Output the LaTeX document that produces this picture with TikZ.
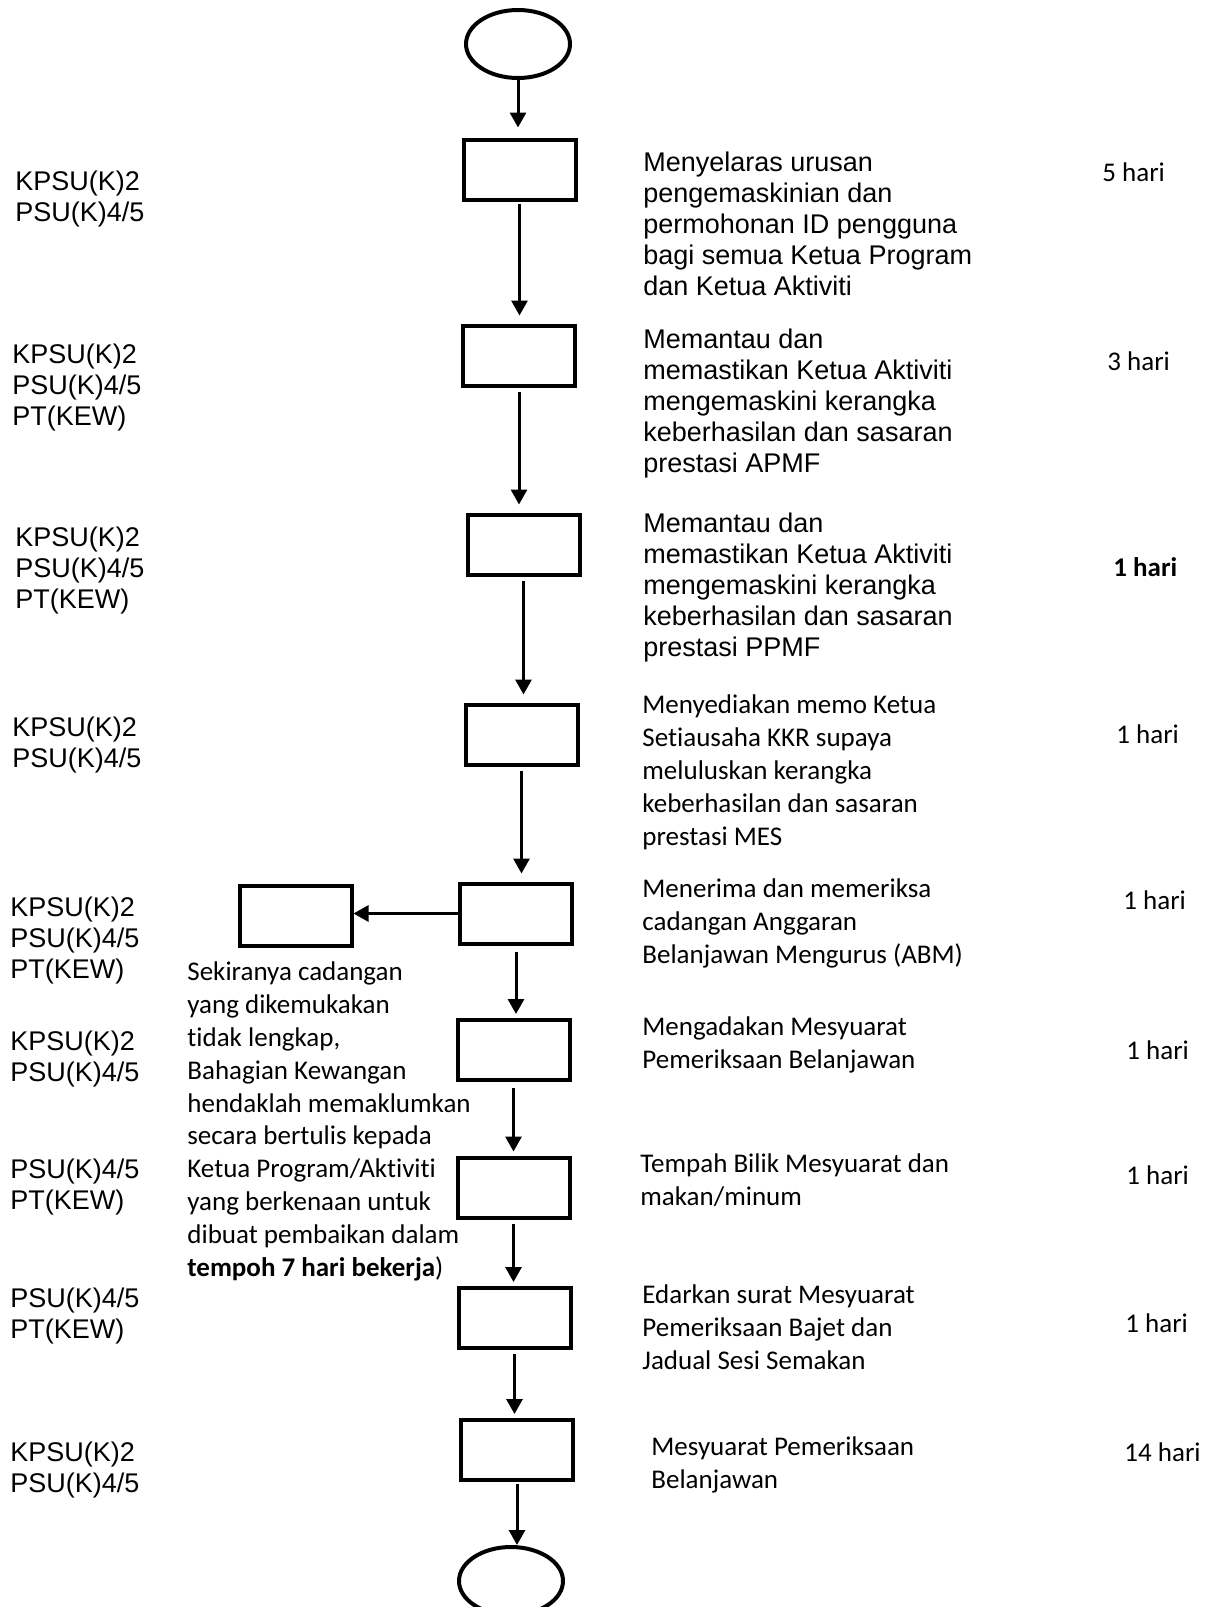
\documentclass[tikz,border=0pt]{standalone}
\usepackage{fontspec}
\setmainfont{Liberation Sans}
\newfontfamily\calfont[Ligatures={NoCommon}]{Carlito}
\usetikzlibrary{arrows.meta,shapes.geometric}
\begin{document}
\begin{tikzpicture}[x=0.5pt,y=-0.5pt,
  box/.style={draw,line width=2pt,minimum width=56pt,minimum height=30pt,inner sep=0pt},
  term/.style={draw,ellipse,line width=2pt,minimum width=52pt,minimum height=34pt,inner sep=0pt},
  arr/.style={line width=1.5pt,-{Triangle[length=7.5pt,width=8pt]}},
  ar/.style={anchor=base west,inner sep=0pt,align=left,font={\fontsize{13.5pt}{15.5pt}\selectfont}},
  ca/.style={anchor=base west,inner sep=0pt,align=left,font={\calfont\fontsize{13.5pt}{16.4pt}\selectfont}},
  hari/.style={anchor=base west,inner sep=0pt,font={\calfont\fontsize{13.5pt}{16.4pt}\selectfont}}]
\useasboundingbox (0,0) rectangle (1210,1607);
\clip (0,0) rectangle (1210,1607);

% flow nodes
\node[term] (start) at (518,44) {};
\node[box] (b1) at (519.5,169.5) {};
\node[box] (b2) at (519,355.5) {};
\node[box] (b3) at (523.5,544.5) {};
\node[box] (b4) at (521.5,734.5) {};
\node[box] (b5) at (516,913.5) {};
\node[box] (bl) at (295.5,915.5) {};
\node[box] (b6) at (513.5,1050) {};
\node[box] (b7) at (513.5,1187.5) {};
\node[box] (b8) at (514.5,1318) {};
\node[box] (b9) at (517,1450) {};
\node[term] (end) at (511,1581) {};

% connectors
\draw[arr,shorten >=5pt] (start.south) -- (start.south |- b1.north);
\draw[arr,shorten <=1pt,shorten >=4pt] (b1.south) -- (b1.south |- b2.north);
\draw[arr,shorten <=2pt,shorten >=4pt] (b2.south) -- (b2.south |- b3.north);
\draw[arr,shorten <=2pt,shorten >=4pt] (b3.south) -- (b3.south |- b4.north);
\draw[arr,shorten <=2pt,shorten >=4pt] (b4.south) -- (b4.south |- b5.north);
\draw[arr] (b5.west) -- (bl.east |- b5.west);
\draw[arr,shorten <=3pt,shorten >=2pt] (b5.south) -- (b5.south |- b6.north);
\draw[arr,shorten <=3pt,shorten >=2pt] (b6.south) -- (b6.south |- b7.north);
\draw[arr,shorten <=2pt,shorten >=2pt] (b7.south) -- (b7.south |- b8.north);
\draw[arr,shorten <=2pt,shorten >=2pt] (b8.south) -- (b8.south |- b9.north);
\draw[arr,shorten <=1pt] (b9.south) -- (b9.south |- end.north);

% left labels (positioned at last-line baseline)
\node[ar] (l1) at (15,221) {KPSU(K)2\\PSU(K)4/5};
\node[ar] (l2) at (12,425) {KPSU(K)2\\PSU(K)4/5\\PT(KEW)};
\node[ar] (l3) at (15,608) {KPSU(K)2\\PSU(K)4/5\\PT(KEW)};
\node[ar] (l4) at (12,767) {KPSU(K)2\\PSU(K)4/5};
\node[ar] (l5) at (10,978) {KPSU(K)2\\PSU(K)4/5\\PT(KEW)};
\node[ar] (l6) at (10,1081) {KPSU(K)2\\PSU(K)4/5};
\node[ar] (l7) at (10,1209) {PSU(K)4/5\\PT(KEW)};
\node[ar] (l8) at (10,1338) {PSU(K)4/5\\PT(KEW)};
\node[ar] (l9) at (10,1492) {KPSU(K)2\\PSU(K)4/5};

% note
\node[ca] (note) at (187,1276) {Sekiranya cadangan\\yang dikemukakan\\tidak lengkap,\\Bahagian Kewangan\\hendaklah memaklumkan\\secara bertulis kepada\\Ketua Program/Aktiviti\\yang berkenaan untuk\\dibuat pembaikan dalam\\\textbf{tempoh 7 hari bekerja})};

% right descriptions
\node[ar] (d1) at (643,295) {Menyelaras urusan\\pengemaskinian dan\\permohonan ID pengguna\\bagi semua Ketua Program\\dan Ketua Aktiviti};
\node[ar] (d2) at (643,472) {Memantau dan\\memastikan Ketua Aktiviti\\mengemaskini kerangka\\keberhasilan dan sasaran\\prestasi APMF};
\node[ar] (d3) at (643,656) {Memantau dan\\memastikan Ketua Aktiviti\\mengemaskini kerangka\\keberhasilan dan sasaran\\prestasi PPMF};
\node[ca] (d4) at (642,845) {Menyediakan memo Ketua\\Setiausaha KKR supaya\\meluluskan kerangka\\keberhasilan dan sasaran\\prestasi MES};
\node[ca] (d5) at (642,963) {Menerima dan memeriksa\\cadangan Anggaran\\Belanjawan Mengurus (ABM)};
\node[ca] (d6) at (642,1068) {Mengadakan Mesyuarat\\Pemeriksaan Belanjawan};
\node[ca] (d7) at (640,1205) {Tempah Bilik Mesyuarat dan\\makan/minum};
\node[ca] (d8) at (642,1369) {Edarkan surat Mesyuarat\\Pemeriksaan Bajet dan\\Jadual Sesi Semakan};
\node[ca] (d9) at (651,1488) {Mesyuarat Pemeriksaan\\Belanjawan};

% durations
\node[hari] (h1) at (1102,181) {5 hari};
\node[hari] (h2) at (1107,370) {3 hari};
\node[hari] (h3) at (1113,576) {\textbf{1 hari}};
\node[hari] (h4) at (1116,743) {1 hari};
\node[hari] (h5) at (1123,909) {1 hari};
\node[hari] (h6) at (1126,1059) {1 hari};
\node[hari] (h7) at (1126,1184) {1 hari};
\node[hari] (h8) at (1125,1332) {1 hari};
\node[hari] (h9) at (1124,1461) {14 hari};
\end{tikzpicture}
\end{document}
